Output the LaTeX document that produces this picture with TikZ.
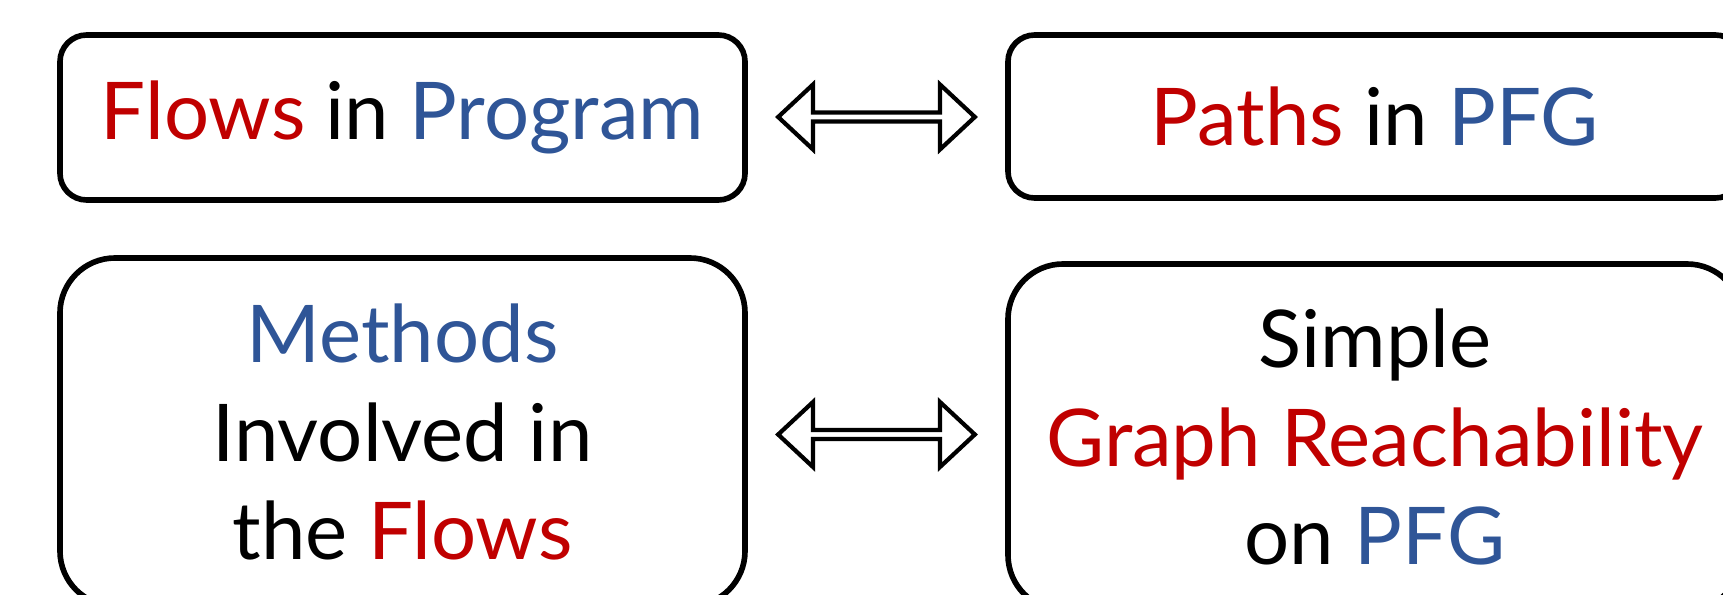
\documentclass[tikz,border=0pt]{standalone}
\usepackage{fontspec}
\setmainfont{Lato}
\usetikzlibrary{positioning, calc, shapes.arrows}

\definecolor{flowred}{HTML}{C00000}
\definecolor{pfgblue}{HTML}{2F5597}
\newcommand{\rd}[1]{\textcolor{flowred}{#1}}
\newcommand{\bl}[1]{\textcolor{pfgblue}{#1}}

\tikzset{
  box/.style={draw, line width=4.8pt, rounded corners=0.8cm, align=center,
    inner sep=0pt, font=\fontsize{68}{84}\selectfont},
  bigbox/.style={box, rounded corners=1.65cm},
  equiv/.style={draw, line width=3.6pt, double arrow, double arrow tip angle=86,
    double arrow head extend=0.4cm, minimum width=1.95cm, minimum height=5.9cm,
    inner sep=0pt}
}

\begin{document}
\begin{tikzpicture}[x=0.03cm, y=-0.03cm]
  \useasboundingbox (0,0) rectangle (1723,595);

  % top row
  \node[box, minimum width=20.55cm, minimum height=4.95cm] (flows) at (402.5,117.5)
    {\rd{Flows} in \bl{Program}};
  \node[box, minimum width=22.02cm, minimum height=4.89cm] (paths) at (1375,116.5)
    {\rd{Paths} in \bl{PFG}};

  % bottom row
  \node[bigbox, minimum width=20.55cm, minimum height=10.44cm] (methods) at (402.5,432)
    {\bl{Methods}\\Involved in\\the \rd{Flows}};
  \node[bigbox, minimum width=22.02cm, minimum height=10.38cm] (reach) at (1375,437)
    {Simple\\\rd{Graph Reachability}\\on \bl{PFG}};

  % equivalences
  \node[equiv] (eqtop) at ($(flows.east)!0.5!(paths.west)$) {};
  \node[equiv] (eqbot) at ($(methods.east)!0.5!(reach.west)$) {};
\end{tikzpicture}
\end{document}
